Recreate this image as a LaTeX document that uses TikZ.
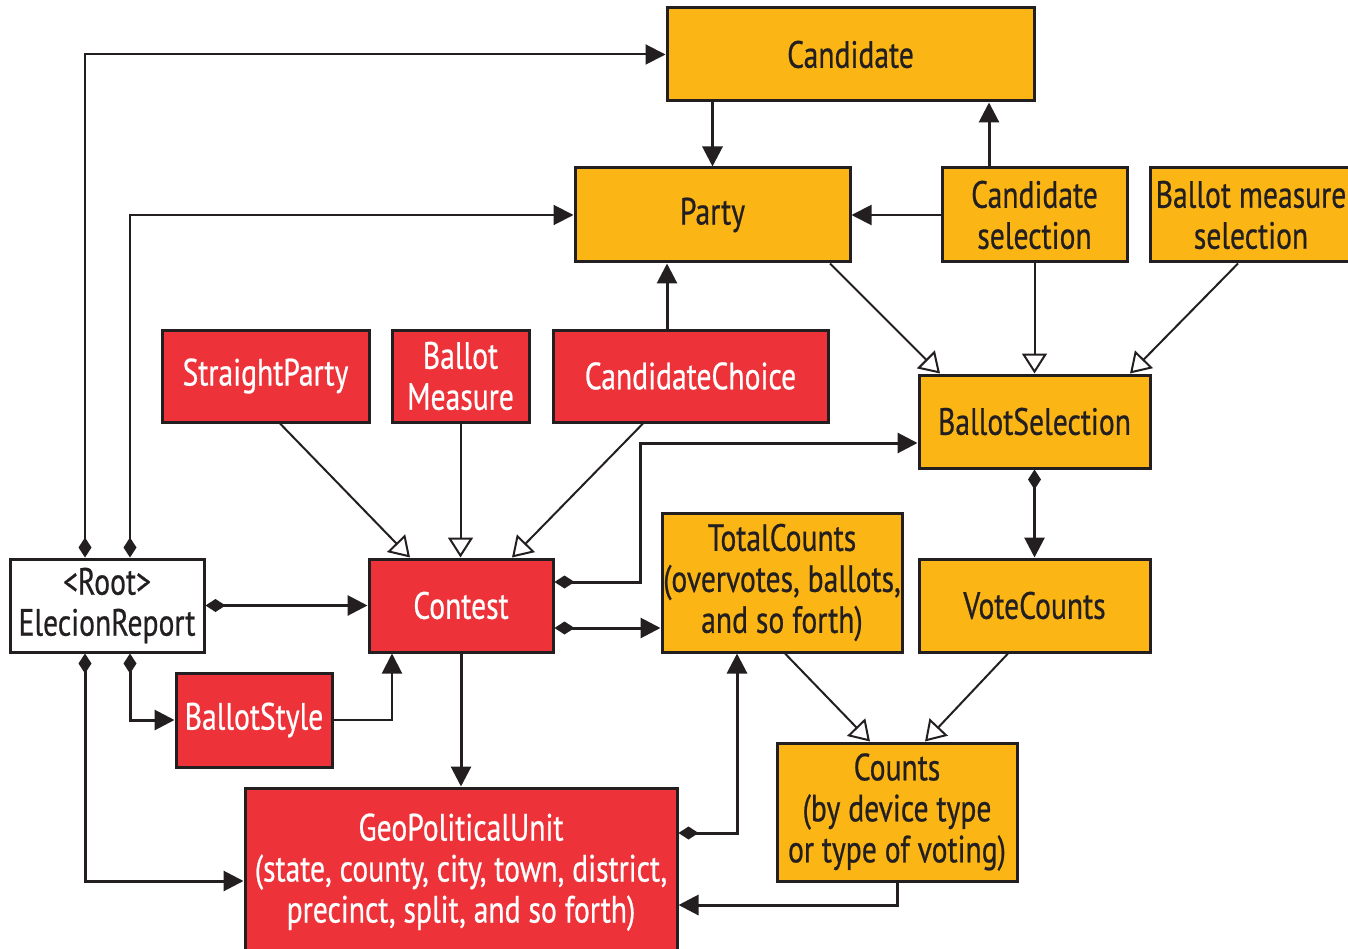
\documentclass[tikz,border=0pt]{standalone}
\usepackage{fontspec}
\setmainfont[FakeStretch=0.78,FakeBold=0.6]{PT Sans}
\usetikzlibrary{arrows.meta}
\definecolor{orng}{HTML}{FBB616}
\definecolor{rd}{HTML}{EE3239}
\definecolor{ink}{HTML}{231F20}
\tikzset{
  box/.style={draw=ink, line width=3pt, inner sep=0pt, align=center,
    font=\fontsize{38}{41}\selectfont},
  obox/.style={box, fill=orng, text=ink},
  rbox/.style={box, fill=rd, text=white},
  wbox/.style={box, fill=white, text=ink},
  thk/.style={draw=ink, line width=3pt},
  thn/.style={draw=ink, line width=2pt},
  tri/.style={-{Triangle[length=20pt,width=20pt]}},
  comp/.style={{Diamond[length=20pt,width=13pt]}-{Triangle[length=20pt,width=20pt]}},
  gen/.style={draw=ink, line width=2pt, -{Triangle[open,length=20pt,width=25pt,fill=white,line width=2pt]}},
}
\begin{document}
\begin{tikzpicture}[x=1pt,y=-1pt]
\clip (0,0) rectangle (1348,949);
\fill[white] (0,0) rectangle (1348,949);
% nodes
\node[obox, minimum width=367pt, minimum height=93pt] (cand) at (850.5,54.5) {Candidate};
\node[obox, minimum width=275pt, minimum height=94pt] (party) at (712.5,215) {Party};
\node[obox, minimum width=185pt, minimum height=94pt] (csel) at (1034.5,215) {Candidate\\selection};
\node[obox, minimum width=202pt, minimum height=94pt] (bmsel) at (1251,215) {Ballot measure\\selection};
\node[rbox, minimum width=207pt, minimum height=92pt] (sp) at (265.5,376) {StraightParty};
\node[rbox, minimum width=137pt, minimum height=92pt] (bm) at (460.5,376) {Ballot\\Measure};
\node[rbox, minimum width=275pt, minimum height=92pt] (cc) at (690.5,376) {CandidateChoice};
\node[obox, minimum width=231pt, minimum height=93pt] (bs) at (1034.5,421.5) {BallotSelection};
\node[wbox, minimum width=194pt, minimum height=93pt] (root) at (107,605.5) {<Root>\\ElecionReport};
\node[rbox, minimum width=184pt, minimum height=93pt] (contest) at (461,605.5) {Contest};
\node[obox, minimum width=240pt, minimum height=139pt] (tc) at (782,582.5) {TotalCounts\\(overvotes, ballots,\\and so forth)};
\node[obox, minimum width=231pt, minimum height=93pt] (vc) at (1034.5,605.5) {VoteCounts};
\node[rbox, minimum width=156pt, minimum height=94pt] (bstyle) at (254,720) {BallotStyle};
\node[rbox, minimum width=432pt, minimum height=180pt] (gpu) at (461,878) {GeoPoliticalUnit\\(state, county, city, town, district,\\precinct, split, and so forth)\\[-21pt]\mbox{}};
\node[obox, minimum width=240pt, minimum height=138pt] (counts) at (897,812) {Counts\\(by device type\\or type of voting)};
% connectors
\draw[thn, comp] (85,0 |- root.north) |- (cand.west);
\draw[thn, comp] (130,0 |- root.north) |- (party.west);
\draw[thk, tri] (cand.south -| party.north) -- (party.north);
\draw[thk, tri] (989,0 |- csel.north) -- (989,0 |- cand.south);
\draw[thn, tri] (csel.west) -- (party.east);
\draw[gen] (830,0 |- party.south) -- (940,0 |- bs.north);
\draw[gen] (csel.south) -- (bs.north);
\draw[gen] (1238,0 |- bmsel.south) -- (1130,0 |- bs.north);
\draw[thk, tri] (667,0 |- cc.north) -- (667,0 |- party.south);
\draw[gen] (280,0 |- sp.south) -- (410,0 |- contest.north);
\draw[gen] (bm.south) -- (bm.south |- contest.north);
\draw[gen] (643,0 |- cc.south) -- (512,0 |- contest.north);
\draw[thk, comp] (contest.east |- 0,582) -- (640,582) -- (640,443) -- (bs.west |- 0,443);
\draw[thk, comp] (contest.east |- 0,628) -- (tc.west |- 0,628);
\draw[thk, comp] (bs.south) -- (vc.north);
\draw[thk, comp] (root.east) -- (contest.west);
\draw[thk, comp] (130,0 |- root.south) |- (bstyle.west);
\draw[thn, tri] (bstyle.east) -| (392,0 |- contest.south);
\draw[thk, comp] (85,0 |- root.south) |- (gpu.west |- 0,881);
\draw[thk, tri] (contest.south) -- (gpu.north);
\draw[thk, comp] (gpu.east |- 0,833) -| (737,0 |- tc.south);
\draw[gen] (785,0 |- tc.south) -- (870,0 |- counts.north);
\draw[gen] (1008,0 |- vc.south) -- (925,0 |- counts.north);
\draw[thk, tri] (counts.south) |- (gpu.east |- 0,905);
\end{tikzpicture}
\end{document}
